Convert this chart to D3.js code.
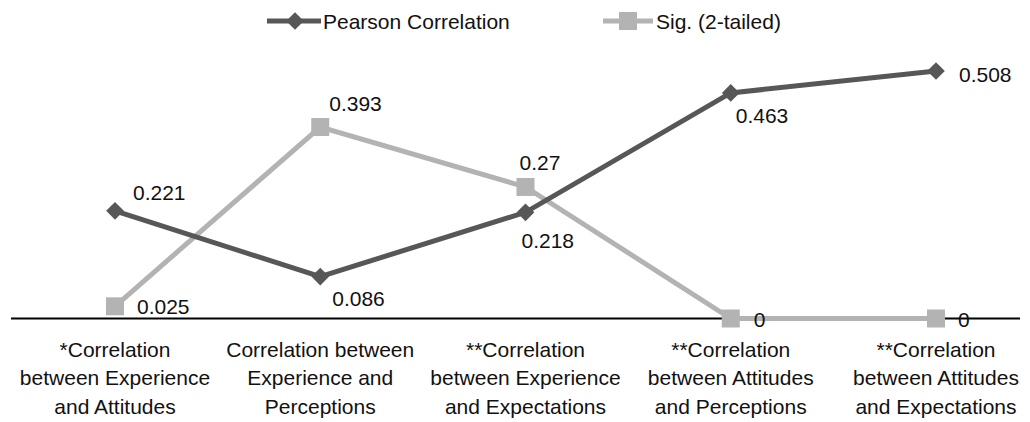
<!DOCTYPE html>
<html>
<head>
<meta charset="utf-8">
<script src="https://cdn.jsdelivr.net/npm/d3@7"></script>
<style>
  body { margin: 0; background: #fff; }
  svg { font-family: 'Liberation Sans', Arial, sans-serif; }
</style>
</head>
<body>
<div id="graf"></div>
<script>
// datos
categorias = [
  ['*Correlation', 'between Experience', 'and Attitudes'],
  ['Correlation between', 'Experience and', 'Perceptions'],
  ['**Correlation', 'between Experience', 'and Expectations'],
  ['**Correlation', 'between Attitudes', 'and Perceptions'],
  ['**Correlation', 'between Attitudes', 'and Expectations']
]
pearson = [0.221, 0.086, 0.218, 0.463, 0.508]
sig = [0.025, 0.393, 0.27, 0, 0]
series = ['Pearson Correlation', 'Sig. (2-tailed)']

// donde va cada etiqueta respecto al punto
posPearson = [[18, -18], [12, 22], [-4, 28], [5, 23], [23, 3]]
posSig = [[22, 0], [9, -24], [-6, -24], [23, 1], [22, 1]]

ancho_total = 1030
alto_total = 422
colorOscuro = '#575757'
colorClaro = '#b3b3b3'

svg = d3.select('#graf').append('svg')
  .attr('width', ancho_total)
  .attr('height', alto_total)

x = d3.scalePoint()
  .domain(d3.range(categorias.length))
  .range([115, 936])

y = d3.scaleLinear()
  .domain([0, 0.508])
  .range([318.5, 71])

// eje x
svg.append('line')
  .attr('x1', 11).attr('x2', 1020)
  .attr('y1', y(0)).attr('y2', y(0))
  .attr('stroke', '#000')
  .attr('stroke-width', 2)

xAxis = svg.append('g')
  .attr('transform', `translate(0, ${y(0)})`)
  .call(d3.axisBottom(x).tickSize(0).tickFormat(''))
xAxis.select('.domain').remove()

etiquetas = svg.append('g')
  .selectAll('text')
  .data(categorias)
  .join('text')
  .attr('text-anchor', 'middle')
  .attr('font-size', '21px')
  .attr('fill', '#111')
categorias.forEach((c, i) => {
  d3.select(etiquetas.nodes()[i]).selectAll('tspan')
    .data(c)
    .join('tspan')
    .attr('x', x(i))
    .attr('y', (d, j) => 357 + j * 28.3)
    .text(d => d)
})

linea = d3.line()
  .x((d, i) => x(i))
  .y(d => y(d))

// serie Sig.
svg.append('path')
  .datum(sig)
  .attr('d', linea)
  .attr('fill', 'none')
  .attr('stroke', colorClaro)
  .attr('stroke-width', 5)

svg.append('g').selectAll('rect')
  .data(sig)
  .join('rect')
  .attr('x', (d, i) => x(i) - 9)
  .attr('y', d => y(d) - 9)
  .attr('width', 18)
  .attr('height', 18)
  .attr('fill', colorClaro)

// serie Pearson
svg.append('path')
  .datum(pearson)
  .attr('d', linea)
  .attr('fill', 'none')
  .attr('stroke', colorOscuro)
  .attr('stroke-width', 5)

diamante = d3.symbol().type(d3.symbolDiamond2).size(200)
svg.append('g').selectAll('path')
  .data(pearson)
  .join('path')
  .attr('d', diamante)
  .attr('transform', (d, i) => `translate(${x(i)}, ${y(d)})`)
  .attr('fill', colorOscuro)

// etiquetas de valores
function valores(data, pos) {
  svg.append('g').selectAll('text')
    .data(data)
    .join('text')
    .attr('x', (d, i) => x(i) + pos[i][0])
    .attr('y', (d, i) => y(d) + pos[i][1])
    .attr('dominant-baseline', 'central')
    .attr('font-size', '21px')
    .attr('fill', '#111')
    .text(d => d)
}
valores(pearson, posPearson)
valores(sig, posSig)

// leyenda
leyenda = svg.append('g')
leyenda.append('line')
  .attr('x1', 267).attr('x2', 321).attr('y1', 21).attr('y2', 21)
  .attr('stroke', colorOscuro).attr('stroke-width', 5)
leyenda.append('path')
  .attr('d', diamante)
  .attr('transform', 'translate(295, 21)')
  .attr('fill', colorOscuro)
leyenda.append('text')
  .attr('x', 323).attr('y', 21)
  .attr('dominant-baseline', 'central')
  .attr('font-size', '21px')
  .attr('fill', '#111')
  .text(series[0])

leyenda.append('line')
  .attr('x1', 603).attr('x2', 653).attr('y1', 21).attr('y2', 21)
  .attr('stroke', colorClaro).attr('stroke-width', 5)
leyenda.append('rect')
  .attr('x', 619).attr('y', 12).attr('width', 18).attr('height', 18)
  .attr('fill', colorClaro)
leyenda.append('text')
  .attr('x', 656).attr('y', 21)
  .attr('dominant-baseline', 'central')
  .attr('font-size', '21px')
  .attr('fill', '#111')
  .text(series[1])
</script>
</body>
</html>
